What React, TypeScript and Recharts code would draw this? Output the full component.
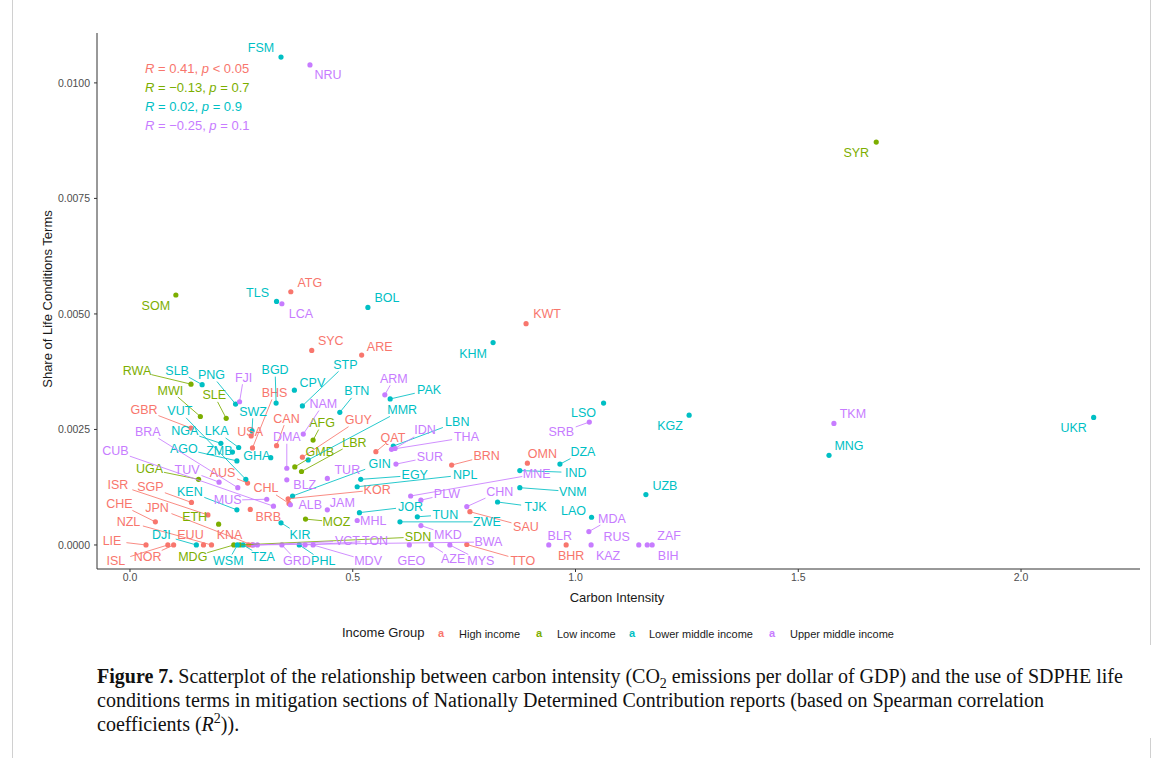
import { Scatter, ScatterChart, XAxis, YAxis } from "recharts";

const groupNames = ["High income", "Low income", "Lower middle income", "Upper middle income"];
const groupColors = ["#F8766D", "#7CAE00", "#00BFC4", "#C77CFF"];

const xTicks = [0, 0.5, 1, 1.5, 2];
const yTicks = [0, 0.0025, 0.005, 0.0075, 0.01];

const statLines = [
  { r: "0.41", p: "< 0.05" },
  { r: "\u22120.13", p: "= 0.7" },
  { r: "0.02", p: "= 0.9" },
  { r: "\u22120.25", p: "= 0.1" },
];

// High income
const highCodes = ["ATG", "KWT", "SYC", "ARE", "BHS", "CAN", "USA", "GBR", "QAT", "GUY", "BRN", "OMN", "AUS", "ISR", "SGP", "CHE", "JPN", "NZL", "LIE", "ISL", "NOR", "EUU", "KNA", "BRB", "CHL", "KOR", "SAU", "TTO", "BHR"];
const highX = [0.361, 0.889, 0.408, 0.52, 0.275, 0.329, 0.272, 0.137, 0.552, 0.387, 0.722, 0.892, 0.264, 0.175, 0.138, 0.057, 0.274, 0.183, 0.036, 0.085, 0.098, 0.165, 0.266, 0.27, 0.357, 0.355, 0.763, 0.756, 0.979];
const highY = [0.00548, 0.00479, 0.00421, 0.00411, 0.0021, 0.00215, 0.00236, 0.00253, 0.00202, 0.0019, 0.00173, 0.00177, 0.00134, 0.00065, 0.00092, 0.0005, 0, 0, 0, 0, 0, 0, 0, 0.00077, 0.0009, 0.001, 0.00072, 0.00001, 0];

// Low income
const lowCodes = ["SYR", "SOM", "RWA", "MWI", "SLE", "AFG", "GMB", "LBR", "UGA", "ETH", "MOZ", "MDG", "SDN"];
const lowX = [1.675, 0.103, 0.137, 0.158, 0.216, 0.411, 0.37, 0.385, 0.154, 0.199, 0.394, 0.233, 0.247];
const lowY = [0.00872, 0.00541, 0.00348, 0.00278, 0.00274, 0.00227, 0.00169, 0.00159, 0.00142, 0.00045, 0.00056, 0, 0];

// Lower middle income
const lmCodes = ["FSM", "TLS", "BOL", "KHM", "STP", "BGD", "CPV", "BTN", "PAK", "MMR", "PNG", "SLB", "SWZ", "VUT", "NGA", "LKA", "AGO", "ZMB", "GHA", "GIN", "EGY", "NPL", "LBN", "LSO", "KGZ", "UKR", "MNG", "UZB", "LAO", "DZA", "IND", "VNM", "TJK", "KEN", "DJI", "KIR", "WSM", "TZA", "PHL", "JOR", "TUN", "ZWE"];
const lmX = [0.339, 0.329, 0.534, 0.815, 0.387, 0.328, 0.369, 0.471, 0.584, 0.4, 0.237, 0.162, 0.274, 0.26, 0.204, 0.244, 0.24, 0.23, 0.316, 0.365, 0.518, 0.51, 0.591, 1.063, 1.255, 2.163, 1.569, 1.158, 1.036, 0.965, 0.875, 0.875, 0.825, 0.24, 0.149, 0.339, 0.241, 0.254, 0.38, 0.515, 0.645, 0.606];
const lmY = [0.01056, 0.00527, 0.00514, 0.00438, 0.00301, 0.00307, 0.00335, 0.00287, 0.00316, 0.00184, 0.00305, 0.00347, 0.00247, 0.00142, 0.0022, 0.00211, 0.00182, 0.00201, 0.00189, 0.00106, 0.00142, 0.00126, 0.00214, 0.00307, 0.00281, 0.00276, 0.00194, 0.00109, 0.0006, 0.00175, 0.00161, 0.00124, 0.00093, 0.00076, 0, 0.00048, 0, 0, 0, 0.0007, 0.00061, 0.0005];

// Upper middle income
const umCodes = ["NRU", "LCA", "FJI", "NAM", "ARM", "DMA", "BRA", "CUB", "TUV", "MUS", "BLZ", "ALB", "JAM", "MHL", "TUR", "IDN", "THA", "SUR", "MNE", "PLW", "CHN", "MKD", "GEO", "AZE", "MYS", "BWA", "VCT", "TON", "GRD", "MDV", "SRB", "TKM", "MDA", "BLR", "RUS", "KAZ", "ZAF", "BIH"];
const umX = [0.404, 0.341, 0.246, 0.389, 0.572, 0.352, 0.242, 0.322, 0.2, 0.307, 0.352, 0.36, 0.443, 0.51, 0.443, 0.595, 0.587, 0.597, 0.63, 0.653, 0.756, 0.653, 0.627, 0.676, 0.718, 0.277, 0.286, 0.393, 0.341, 0.411, 1.031, 1.58, 1.03, 0.94, 1.142, 1.035, 1.172, 1.161];
const umY = [0.01039, 0.00522, 0.0031, 0.0024, 0.00325, 0.00166, 0.00124, 0.00084, 0.00136, 0.00099, 0.00141, 0.00087, 0.00076, 0.00053, 0.00144, 0.00209, 0.00207, 0.00175, 0.00106, 0.00097, 0.00083, 0.00042, 0, 0, 0, 0, 0, 0, 0, 0, 0.00266, 0.00263, 0.00029, 0, 0, 0, 0, 0];

// where each repelled label sits relative to its point, in pixels
const labelNudge: Record<string, [number, number]> = {
  ATG: [19, -9], KWT: [21, -10], SYC: [19, -9], ARE: [18, -8], BHS: [22, -55], CAN: [10, -27], USA: [-1, -4],
  GBR: [-47, -18], QAT: [17, -14], GUY: [56, -37], BRN: [35, -9], OMN: [15, -9], AUS: [-25, -10], ISR: [-90, -30],
  SGP: [-41, -15], CHE: [-36, -18], JPN: [-95, -37], NZL: [-83, -23], LIE: [-34, -4], ISL: [-52, 16], NOR: [-26, 12],
  EUU: [-13, -10], KNA: [-19, -10], BRB: [18, 8], CHL: [-23, -15], KOR: [89, -9], SAU: [56, 15], TTO: [56, 16], BHR: [5, 11],
  SYR: [-20, 11], SOM: [-20, 11], RWA: [-54, -13], MWI: [-30, -26], SLE: [-12, -23], AFG: [9, -17], GMB: [25, -15],
  LBR: [53, -29], UGA: [-49, -10], ETH: [-24, -7], MOZ: [31, 3], MDG: [-41, 12], SDN: [178, -8],
  FSM: [-20, -9], TLS: [-19, -8], BOL: [19, -9], KHM: [-20, 11], STP: [43, -41], BGD: [-1, -33], CPV: [18, -7],
  BTN: [17, -21], PAK: [39, -9], MMR: [94, -50], PNG: [-24, -29], SLB: [-25, -14], SWZ: [1, -19], VUT: [-66, -68],
  NGA: [-36, -12], LKA: [-22, -16], AGO: [-53, -12], ZMB: [-13, -1], GHA: [-14, -2], GIN: [87, -32], EGY: [54, -4],
  NPL: [108, -12], LBN: [64, -24], LSO: [-20, 10], KGZ: [-19, 11], UKR: [-20, 11], MNG: [20, -9], UZB: [19, -9],
  LAO: [-18, -6], DZA: [23, -12], IND: [56, 2], VNM: [53, 4], TJK: [38, 5], KEN: [-47, -18], DJI: [-35, -10],
  KIR: [19, 12], WSM: [-9, 16], TZA: [20, 12], PHL: [24, 16], JOR: [51, -6], TUN: [28, -2], ZWE: [87, 0],
  NRU: [18, 10], LCA: [19, 10], FJI: [4, -24], NAM: [20, -30], ARM: [9, -16], DMA: [0, -31], BRA: [-90, -56],
  CUB: [-158, -55], TUV: [-32, -12], MUS: [-39, 1], BLZ: [18, 5], ALB: [20, 0], JAM: [15, -7], MHL: [16, 1],
  TUR: [20, -8], IDN: [30, -18], THA: [75, -12], SUR: [34, -7], MNE: [126, -22], PLW: [26, -6], CHN: [33, -15],
  MKD: [27, 9], GEO: [2, 16], AZE: [22, 14], MYS: [31, 16], BWA: [235, -3], VCT: [90, -4], TON: [70, -4],
  GRD: [15, 16], MDV: [55, 16], SRB: [-28, 10], TKM: [19, -9], MDA: [23, -13], BLR: [11, -9], RUS: [-22, -8],
  KAZ: [17, 11], ZAF: [17, -9], BIH: [21, 11],
};

const toRows = (codes: string[], xs: number[], ys: number[]) =>
  codes.map((code, i) => ({ code, x: xs[i], y: ys[i] }));

const groups = [
  toRows(highCodes, highX, highY),
  toRows(lowCodes, lowX, lowY),
  toRows(lmCodes, lmX, lmY),
  toRows(umCodes, umX, umY),
];

const font = "'Liberation Sans', Arial, Helvetica, sans-serif";

const dotShape = (color: string) => (p: any) => <circle cx={p.cx} cy={p.cy} r={2.6} fill={color} />;

// text label plus a segment that stops at the label box, like ggrepel
const labelShape = (color: string) => (p: any) => {
  const code: string = p.payload.code;
  const [dx, dy] = labelNudge[code] ?? [0, 0];
  const lx = p.cx + dx;
  const ly = p.cy + dy;
  const hw = code.length * 4.3 + 1.5;
  const hh = 6.5;
  const vx = p.cx - lx;
  const vy = p.cy - ly;
  const t = Math.min(vx === 0 ? Infinity : hw / Math.abs(vx), vy === 0 ? Infinity : hh / Math.abs(vy));
  let seg = null;
  if (t < 1) {
    const ex = lx + vx * t;
    const ey = ly + vy * t;
    if (Math.hypot(p.cx - ex, p.cy - ey) > 10) {
      seg = <line x1={p.cx} y1={p.cy} x2={ex} y2={ey} stroke={color} strokeWidth={0.85} />;
    }
  }
  return (
    <g>
      {seg}
      <text x={lx} y={ly} textAnchor="middle" dominantBaseline="central" fontSize={12.5} fill={color} fontFamily={font}>
        {code}
      </text>
    </g>
  );
};

const legendItems = [
  { key: 441, text: 459 },
  { key: 539, text: 557 },
  { key: 632, text: 649 },
  { key: 772, text: 790 },
];

export default function App() {
  return (
    <div style={{ position: "fixed", left: 0, top: 0, width: 1171, height: 758, background: "#fff", fontFamily: font, overflow: "hidden" }}>
      <div style={{ position: "absolute", left: 12, top: 0, width: 1, height: 758, background: "#d0d0d0" }} />
      <div style={{ position: "absolute", left: 1150, top: 0, width: 1, height: 645, background: "#d0d0d0" }} />
      <div style={{ position: "absolute", left: 1150, top: 738, width: 1, height: 20, background: "#d0d0d0" }} />

      <div style={{ position: "absolute", left: 0, top: 0 }}>
        <ScatterChart width={1171} height={620} margin={{ top: 33, right: 31, bottom: 21, left: 37 }}>
          <XAxis
            type="number"
            dataKey="x"
            domain={[-0.074, 2.267]}
            ticks={xTicks}
            tickFormatter={(v: number) => v.toFixed(1)}
            allowDataOverflow
            height={30}
            stroke="#333"
            tickSize={3}
            tickMargin={2}
            tick={{ fill: "#4D4D4D", fontSize: 10.5 }}
          />
          <YAxis
            type="number"
            dataKey="y"
            domain={[-0.00052, 0.01108]}
            ticks={yTicks}
            tickFormatter={(v: number) => v.toFixed(4)}
            allowDataOverflow
            width={60}
            stroke="#333"
            tickSize={3}
            tickMargin={4}
            tick={{ fill: "#4D4D4D", fontSize: 10.5 }}
          />
          {groups.map((rows, i) => (
            <Scatter key={`d-${i}`} name={groupNames[i]} data={rows} shape={dotShape(groupColors[i])} isAnimationActive={false} />
          ))}
          {groups.map((rows, i) => (
            <Scatter key={`l-${i}`} data={rows} shape={labelShape(groupColors[i])} isAnimationActive={false} />
          ))}
        </ScatterChart>
      </div>

      {statLines.map((s, i) => (
        <div key={i} style={{ position: "absolute", left: 145, top: 61 + i * 19, fontSize: 13, lineHeight: "16px", color: groupColors[i], whiteSpace: "nowrap" }}>
          <i>R</i> = {s.r}, <i>p</i> {s.p}
        </div>
      ))}

      <div style={{ position: "absolute", left: 47, top: 299, transform: "translate(-50%, -50%) rotate(-90deg)", fontSize: 13, color: "#1a1a1a", whiteSpace: "nowrap" }}>
        Share of Life Conditions Terms
      </div>
      <div style={{ position: "absolute", left: 617, top: 597, transform: "translate(-50%, -50%)", fontSize: 13, color: "#1a1a1a", whiteSpace: "nowrap" }}>
        Carbon Intensity
      </div>

      <div style={{ position: "absolute", left: 342, top: 625, fontSize: 13, lineHeight: "16px", color: "#1a1a1a", whiteSpace: "nowrap" }}>Income Group</div>
      {legendItems.map((it, i) => (
        <div key={i}>
          <div style={{ position: "absolute", left: it.key - 3, top: 625, fontSize: 11, fontWeight: "bold", lineHeight: "16px", color: groupColors[i] }}>a</div>
          <div style={{ position: "absolute", left: it.text, top: 626, fontSize: 11, lineHeight: "16px", color: "#1a1a1a", whiteSpace: "nowrap" }}>{groupNames[i]}</div>
        </div>
      ))}

      <div style={{ position: "absolute", left: 97, top: 664, fontFamily: "'Liberation Serif', 'Times New Roman', serif", fontSize: 20, lineHeight: "24px", color: "#111", whiteSpace: "nowrap" }}>
        <div>
          <b>Figure 7.</b> Scatterplot of the relationship between carbon intensity (CO<sub style={{ fontSize: "0.7em", lineHeight: 0 }}>2</sub> emissions per dollar of GDP) and the use of SDPHE life
        </div>
        <div>conditions terms in mitigation sections of Nationally Determined Contribution reports (based on Spearman correlation</div>
        <div>
          coefficients (<i>R</i>
          <sup style={{ fontSize: "0.7em", lineHeight: 0 }}>2</sup>)).
        </div>
      </div>
    </div>
  );
}
